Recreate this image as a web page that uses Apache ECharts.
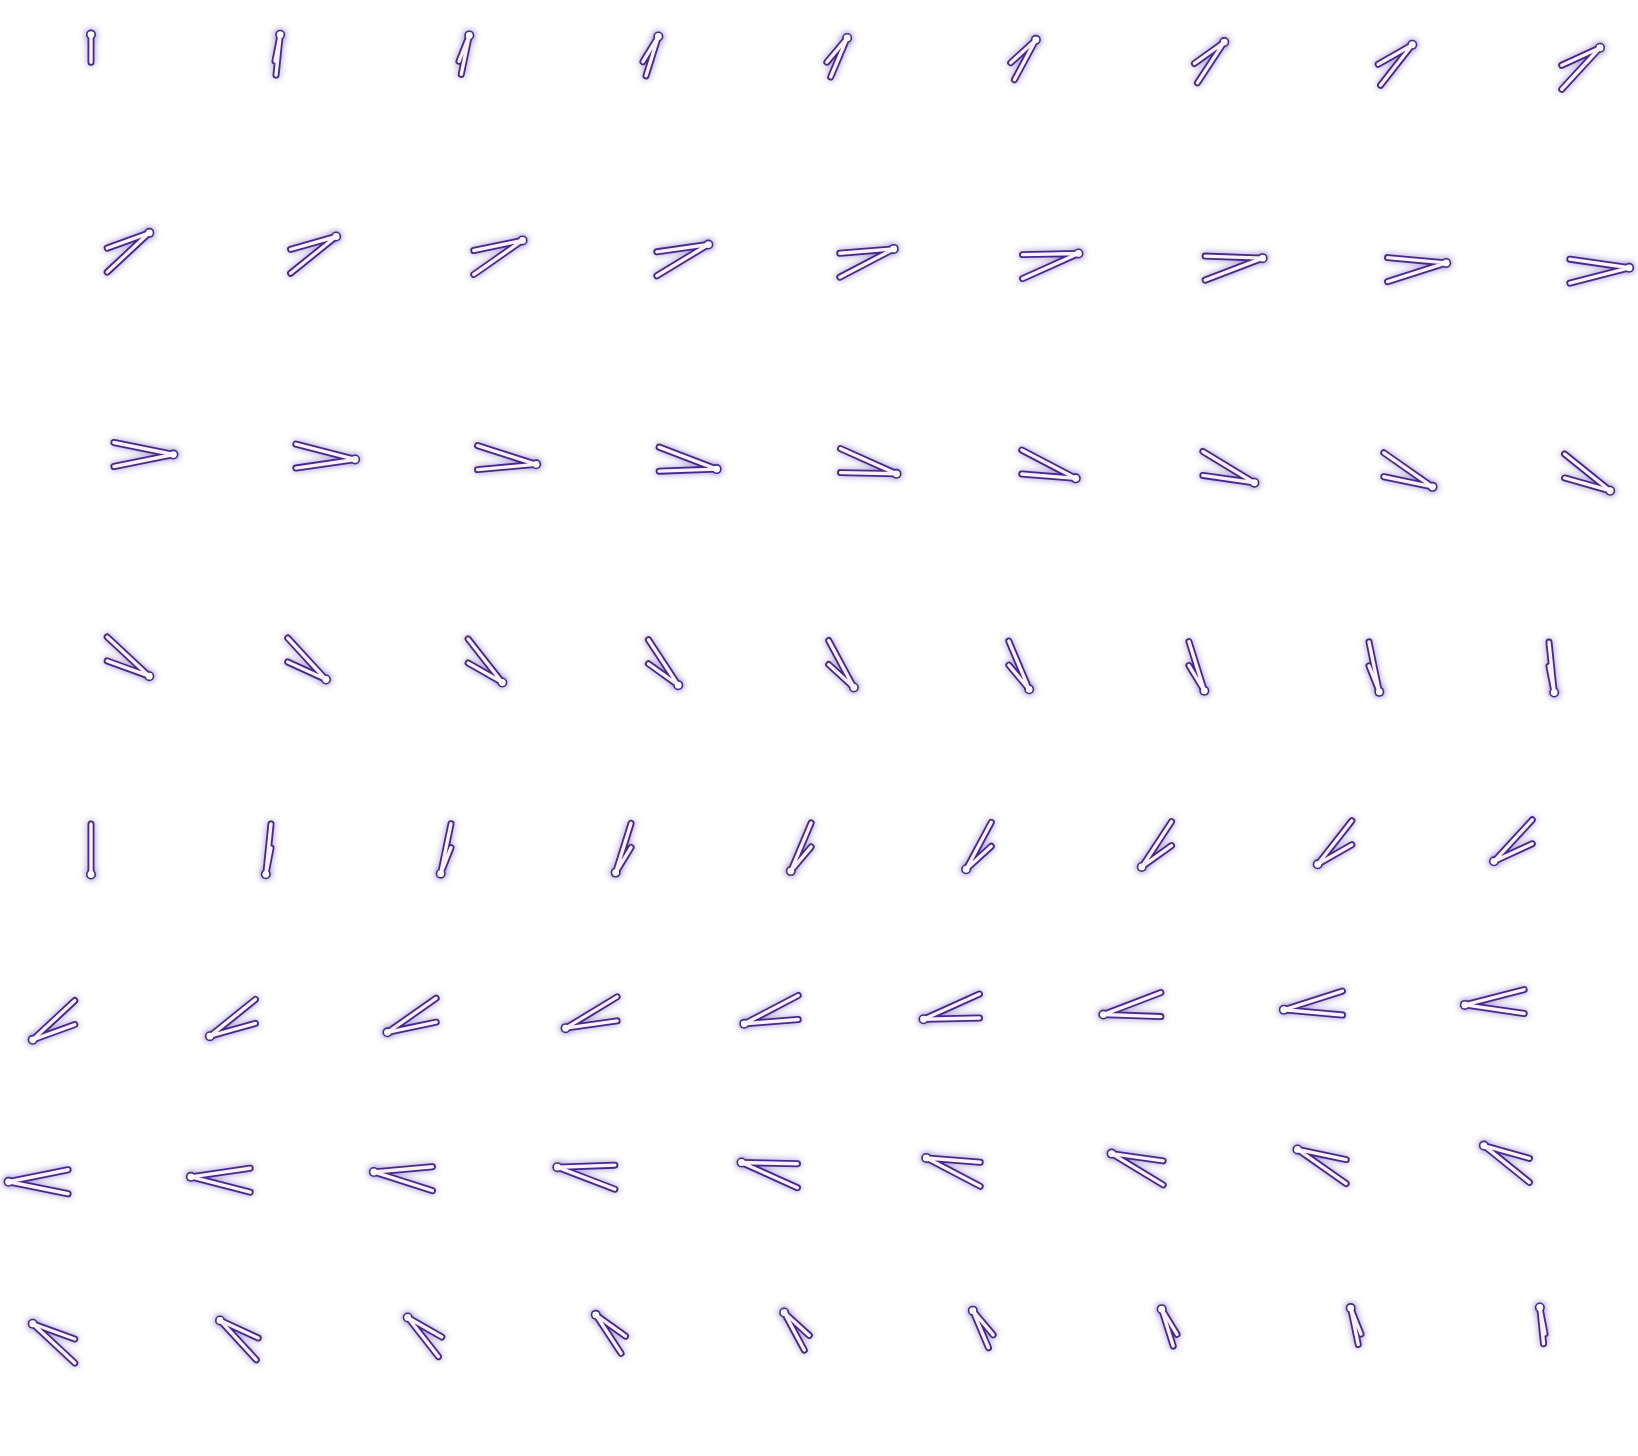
<!DOCTYPE html>
<html><head><meta charset="utf-8">
<script src="https://cdn.jsdelivr.net/npm/echarts@6/dist/echarts.min.js"></script>
<style>html,body{margin:0;padding:0;background:#fff}#c{width:1638px;height:1456px}</style>
</head><body><div id="c"></div>
<script>
// grid columns / rows of the glyph field
const columns = [0, 1, 2, 3, 4, 5, 6, 7, 8];
const rows = [0, 1, 2, 3, 4, 5, 6, 7];
// rotation of each glyph (degrees, clockwise from "pointing down")
const angles = [
  0, 5, 10, 15, 20, 25, 30, 35, 40,
  45, 50, 55, 60, 65, 70, 75, 80, 85,
  90, 95, 100, 105, 110, 115, 120, 125, 130,
  135, 140, 145, 150, 155, 160, 165, 170, 175,
  180, 185, 190, 195, 200, 205, 210, 215, 220,
  225, 230, 235, 240, 245, 250, 255, 260, 265,
  270, 275, 280, 285, 290, 295, 300, 305, 310,
  315, 320, 325, 330, 335, 340, 345, 350, 355
];
// relative length of the lower arm
const lowerArm = [
  0.55, 0.8, 0.78, 0.8, 0.81, 0.85, 0.9, 0.93, 1,
  1, 1, 1, 1, 1, 1, 1, 1, 1,
  1, 1, 1, 1, 1, 1, 1, 1, 1,
  1, 1, 1, 1, 1, 1, 1, 1, 1,
  1, 1, 1, 1, 1, 1, 1, 1, 1,
  1, 1, 1, 1, 1, 1, 1, 1, 1,
  1, 1, 1, 1, 1, 1, 1, 1, 1,
  1, 0.95, 0.9, 0.85, 0.8, 0.77, 0.75, 0.73, 0.72
];

const data = angles.map((a, i) => [columns[i % columns.length], rows[Math.floor(i / columns.length)], a, lowerArm[i]]);

const PURPLE = '#452a8c';
const GLOW = 'rgba(95,65,175,0.55)';
function renderItem(params, api) {
  const p = api.coord([api.value(0), api.value(1)]);
  const u = api.size([1, 1]);
  const ux = u[0], uy = u[1];
  const phi = api.value(2) * Math.PI / 180;
  const f = api.value(3);
  const s = Math.sin(phi), c = Math.cos(phi);
  const V = [p[0] + 0.453 * ux * s, p[1] - 0.31 * uy * c];
  const M = [p[0] + 0.126 * ux * s, p[1] - 0.098 * uy * c];
  const B = [M[0], M[1] - 0.066 * uy];
  const A0 = [M[0], M[1] + 0.066 * uy];
  const A = [V[0] + f * (A0[0] - V[0]), V[1] + f * (A0[1] - V[1])];
  const pts = [B, V, A];
  return {
    type: 'group',
    children: [
      { type: 'polyline', shape: { points: pts },
        style: { fill: null, stroke: PURPLE, lineWidth: 7, lineCap: 'round', lineJoin: 'round',
                 shadowBlur: 7, shadowColor: GLOW } },
      { type: 'circle', shape: { cx: V[0], cy: V[1], r: 5 },
        style: { fill: PURPLE, shadowBlur: 7, shadowColor: GLOW } },
      { type: 'polyline', shape: { points: pts },
        style: { fill: null, stroke: '#fbf0fb', lineWidth: 3.4, lineCap: 'round', lineJoin: 'round' } },
      { type: 'circle', shape: { cx: V[0], cy: V[1], r: 3.4 },
        style: { fill: '#ffffff' } }
    ]
  };
}

const chart = echarts.init(document.getElementById('c'));
chart.setOption({
  animation: false,
  backgroundColor: '#ffffff',
  grid: { left: 0, right: 0, top: -1.5, bottom: 1.5 },
  xAxis: { type: 'value', min: -0.5, max: 8.5, show: false },
  yAxis: { type: 'value', min: -0.5, max: 7.5, inverse: true, show: false },
  series: [{
    type: 'custom',
    renderItem: renderItem,
    encode: { x: 0, y: 1 },
    data: data,
    clip: false
  }]
});
</script>
</body></html>
